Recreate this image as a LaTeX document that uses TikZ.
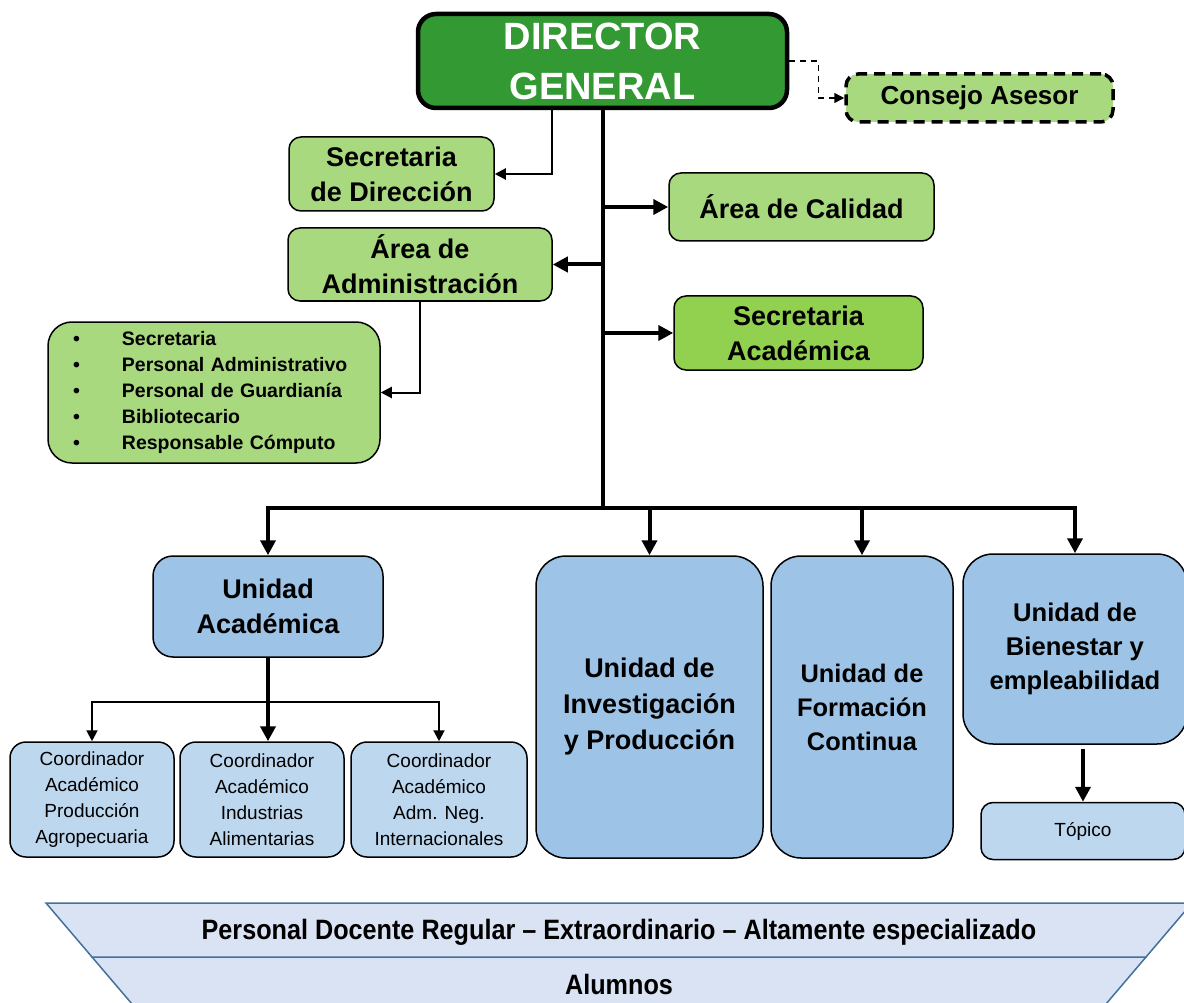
\documentclass[tikz,border=0pt]{standalone}
\usepackage{fontspec}
\setmainfont{Liberation Sans}
\usetikzlibrary{arrows.meta}
\usetikzlibrary{positioning}
\definecolor{darkgreen}{RGB}{51,153,51}
\definecolor{lightgreen}{RGB}{169,217,126}
\definecolor{midgreen}{RGB}{146,208,80}
\definecolor{unitblue}{RGB}{157,195,230}
\definecolor{paleblue}{RGB}{189,215,238}
\definecolor{layerfill}{RGB}{218,227,243}
\definecolor{layerline}{RGB}{65,113,156}
\tikzstyle{orgbox} = [rectangle, draw=black, line width=1.5pt, align=center, inner sep=0pt]
\tikzstyle{director} = [orgbox, fill=darkgreen, rounded corners=18pt, line width=4.5pt, text=white, font=\bfseries\fontsize{38}{50}\selectfont]
\tikzstyle{greenbox} = [orgbox, fill=lightgreen, rounded corners=12pt, font=\bfseries\fontsize{27}{35}\selectfont]
\tikzstyle{unitbox} = [orgbox, fill=unitblue, rounded corners=30pt, font=\bfseries\fontsize{27}{35}\selectfont]
\tikzstyle{coordbox} = [orgbox, fill=paleblue, rounded corners=16pt, font=\fontsize{19}{26}\selectfont]
\tikzstyle{layer} = [draw=layerline, line width=1.5pt, fill=layerfill]
\tikzstyle{layertext} = [font=\bfseries\fontsize{28}{30}\selectfont, xscale=0.9]
\tikzstyle{arrow} = [line width=4pt, -{Triangle[length=15pt,width=15pt]}]
\tikzstyle{thinarrow} = [line width=2pt, -{Triangle[length=11pt,width=11pt]}]
\tikzstyle{trunk} = [line width=4pt, line cap=rect]
\newcommand{\itm}[1]{\makebox[49pt][l]{\textbullet}#1}

\begin{document}
\begin{tikzpicture}[x=1pt, y=-1pt]
	\useasboundingbox (0,0) rectangle (1184,1003);
	\clip (0,0) rectangle (1184,1003);
	\node (DG) [director, minimum width=369pt, minimum height=94pt] at (602.5,61) {DIRECTOR\\GENERAL};
	\node (CA) [greenbox, minimum width=267pt, minimum height=48pt, line width=3.5pt, dash pattern=on 11pt off 7pt, font=\bfseries\fontsize{26}{30}\selectfont] at (979.5,98) {Consejo Asesor};
	\node (SD) [greenbox, minimum width=205pt, minimum height=74pt] at (391.5,174) {Secretaria\\de Dirección};
	\node (AC) [greenbox, minimum width=265pt, minimum height=68pt] at (801.5,207) {Área de Calidad};
	\node (AA) [greenbox, minimum width=264pt, minimum height=73pt] at (420,264.5) {Área de\\Administración};
	\node (SA) [greenbox, fill=midgreen, minimum width=249pt, minimum height=74pt] at (798.5,333) {Secretaria\\Académica};
	\node (AP) [greenbox, rounded corners=24pt, minimum height=141pt, text width=282pt, inner xsep=25pt, align=left, font=\bfseries\fontsize{19.5}{26}\selectfont] at (214,392.5)
		{\itm{Secretaria}\\\itm{Personal Administrativo}\\\itm{Personal de Guardianía}\\\itm{Bibliotecario}\\\itm{Responsable Cómputo}};
	\node (UA) [unitbox, rounded corners=20pt, minimum width=230pt, minimum height=101pt] at (268,606.5) {Unidad\\Académica};
	\node (UI) [unitbox, minimum width=227pt, minimum height=302pt, font=\bfseries\fontsize{27}{36}\selectfont] at (649.5,707) {Unidad de\\Investigación\\y Producción};
	\node (UF) [unitbox, minimum width=182pt, minimum height=302pt, font=\bfseries\fontsize{25.4}{34}\selectfont] at (862,707) {Unidad de\\Formación\\Continua};
	\node (UB) [unitbox, minimum width=224pt, minimum height=190pt, font=\bfseries\fontsize{25.6}{34}\selectfont] at (1075,649) {Unidad de\\Bienestar y\\empleabilidad};
	\node (TO) [coordbox, rounded corners=12pt, minimum width=204pt, minimum height=57pt] at (1083,831) {Tópico};
	\node (C1) [coordbox, minimum width=164pt, minimum height=115pt] at (92,799.5) {Coordinador\\Académico\\Producción\\Agropecuaria};
	\node (C2) [coordbox, minimum width=164pt, minimum height=115pt] at (262,799.5) {Coordinador\\Académico\\Industrias\\Alimentarias};
	\node (C3) [coordbox, minimum width=176pt, minimum height=115pt] at (439,799.5) {Coordinador\\Académico\\Adm. Neg.\\Internacionales};
	\draw [layer] (92,957) -- (1146,957) -- (1100,1011) -- (138,1011) -- cycle;
	\draw [layer] (46,903) -- (1192,903) -- (1146,957) -- (92,957) -- cycle;
	\node (PD) [layertext] at (619,932) {Personal Docente Regular – Extraordinario – Altamente especializado};
	\node (AL) [layertext] at (619,984) {Alumnos};
	\coordinate (bar) at (602.5,508);
	\coordinate (cbar) at (268,702);
	\draw [trunk] (DG.south) -- (bar);
	\draw [thinarrow] ([xshift=-51pt]DG.south) |- (SD.east);
	\draw [arrow] (DG.south |- AC.west) -- (AC.west);
	\draw [arrow] (DG.south |- AA.east) -- (AA.east);
	\draw [arrow] (DG.south |- SA.west) -- (SA.west);
	\draw [thinarrow] (AA.south) |- (AP.east);
	\draw [line width=1.5pt, dash pattern=on 6pt off 5pt, -{Triangle[length=10pt,width=10pt]}] (DG.east) -- ++(29,0) |- (CA.west);
	\draw [trunk] (UA.north |- bar) -- (UB.north |- bar);
	\foreach \u in {UA,UI,UF,UB}
		\draw [arrow] (\u.north |- bar) -- (\u.north);
	\draw [arrow] (UA.south) -- (UA.south |- C2.north);
	\draw [line width=2pt, line cap=rect] (C1.north |- cbar) -- (C3.north |- cbar);
	\draw [thinarrow] (C1.north |- cbar) -- (C1.north);
	\draw [thinarrow] (C3.north |- cbar) -- (C3.north);
	\draw [arrow, shorten <=4pt] (TO.north |- UB.south) -- (TO.north);
\end{tikzpicture}
\end{document}
